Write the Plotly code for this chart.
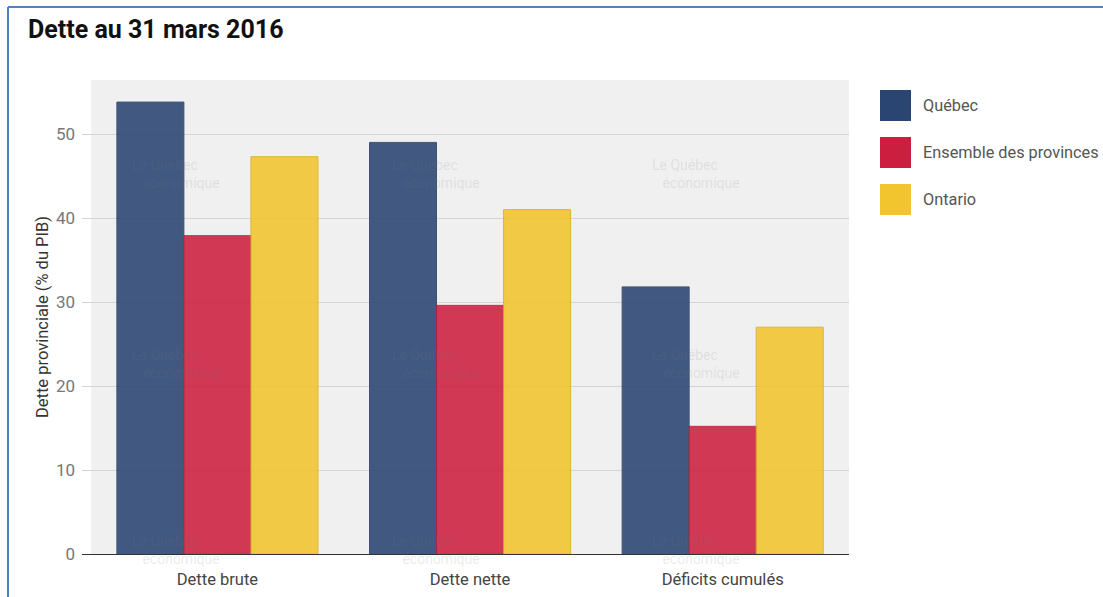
import plotly.graph_objects as go

# ---- data -------------------------------------------------------------
categories = ["Dette brute", "Dette nette", "Déficits cumulés"]
series_names = ["Québec", "Ensemble des provinces", "Ontario"]
quebec = [53.8, 49.0, 31.8]
ensemble = [37.9, 29.6, 15.2]
ontario = [47.3, 41.0, 27.0]
y_ticks = [0, 10, 20, 30, 40, 50]

series_values = [quebec, ensemble, ontario]
colors = ["#2a4572", "#cc1f3f", "#f2c42e"]
edge_colors = ["#2a3f66", "#b81c3a", "#d9ae22"]

# ---- layout geometry (pixels) ----------------------------------------
W, H = 1103, 597
PL, PR, PT, PB = 82, 849, 80, 554  # plot area edges


def px_x(x):
    return (x - PL) / (PR - PL)


def px_y(y):
    return (PB - y) / (PB - PT)


fig = go.Figure()

for name, vals, c, ec in zip(series_names, series_values, colors, edge_colors):
    fig.add_trace(go.Bar(
        name=name, x=categories, y=vals,
        marker=dict(color=c, opacity=0.88, line=dict(color=ec, width=1)),
        showlegend=False,
        hoverinfo="x+y+name",
    ))

shapes = []
annotations = []

# grey background band behind the categories
shapes.append(dict(type="rect", xref="x", yref="paper", x0=-0.5, x1=2.5, y0=0, y1=1,
                    fillcolor="#f0f0f0", line=dict(width=0), layer="below"))

# frame lines at the top and left of the card
shapes.append(dict(type="line", xref="paper", yref="paper",
                   x0=px_x(8), x1=px_x(W + 5), y0=px_y(7), y1=px_y(7),
                   line=dict(color="#4f81bd", width=2)))
shapes.append(dict(type="line", xref="paper", yref="paper",
                   x0=px_x(8), x1=px_x(8), y0=px_y(7), y1=px_y(H + 5),
                   line=dict(color="#4f81bd", width=2)))

# legend swatches and labels
for i, (name, c) in enumerate(zip(series_names, colors)):
    top = 90 + i * 47
    shapes.append(dict(type="rect", xref="paper", yref="paper",
                       x0=px_x(880), x1=px_x(911), y0=px_y(top + 31), y1=px_y(top),
                       fillcolor=c, line=dict(width=0)))
    annotations.append(dict(xref="paper", yref="paper", x=px_x(921), y=px_y(top + 15.5),
                            text=name, showarrow=False, xanchor="left", yanchor="middle",
                            font=dict(family="Roboto", size=16.3, color="#555555")))

# faint publisher watermark (two-line label, second line indented)
wm_font = dict(family="Roboto", size=14, color="rgba(120,120,120,0.16)")
for row_y in [174, 364, 550]:
    for col_x in [130, 390, 650]:
        annotations.append(dict(xref="paper", yref="paper", x=px_x(col_x), y=px_y(row_y),
                                text="Le Québec<br>&nbsp;&nbsp;&nbsp;économique",
                                showarrow=False, align="left",
                                xanchor="left", yanchor="middle", font=wm_font))

# title
annotations.append(dict(xref="paper", yref="paper", x=px_x(26), y=px_y(30),
                        text="<b>Dette au 31 mars 2016</b>", showarrow=False,
                        xanchor="left", yanchor="middle",
                        font=dict(family="Roboto", size=25, color="#111111")))

fig.update_layout(
    width=W, height=H,
    margin=dict(l=PL, r=W - PR, t=PT, b=H - PB, autoexpand=False),
    paper_bgcolor="white", plot_bgcolor="white",
    barmode="group", bargap=0.204, bargroupgap=0,
    font=dict(family="Roboto", color="#555555"),
    shapes=shapes, annotations=annotations,
    xaxis=dict(range=[-0.536, 2.5], showgrid=False, showline=True,
               linecolor="#333333", linewidth=1, ticks="",
               tickfont=dict(family="Roboto", size=16.5, color="#444444"),
               ticklabelstandoff=10, fixedrange=True),
    yaxis=dict(range=[0, 56.43], tickvals=y_ticks, showgrid=True,
               gridcolor="#d4d4d4", gridwidth=1, zeroline=False, showline=False,
               tickfont=dict(family="Roboto", size=17, color="#777777"),
               ticklabelstandoff=6,
               title=dict(text="Dette provinciale (% du PIB)", standoff=3,
                          font=dict(family="Roboto", size=16.5, color="#333333")),
               fixedrange=True),
)

fig.write_html("out.html")
